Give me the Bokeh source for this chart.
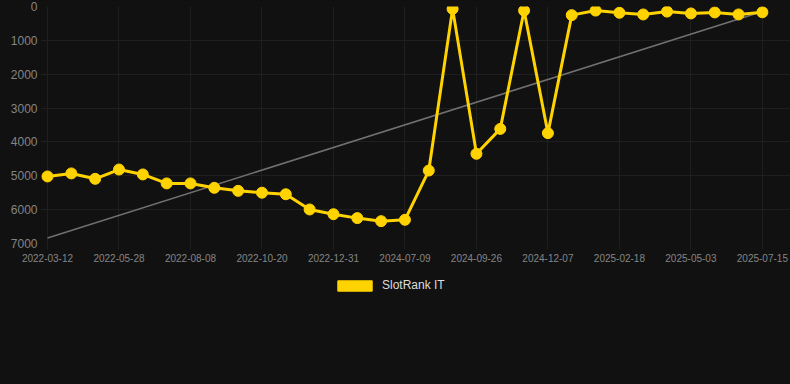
from bokeh.plotting import figure
from bokeh.layouts import column
from bokeh.models import Range1d, FixedTicker, Legend, LegendItem, ColumnDataSource
from bokeh.embed import file_html
from bokeh.resources import INLINE

# data
x_index = list(range(31))
rank = [5020, 4930, 5090, 4815, 4960, 5225, 5225, 5355, 5445, 5500, 5545,
        5995, 6135, 6250, 6340, 6300, 4845, 70, 4350, 3615, 120, 3740,
        255, 120, 185, 235, 150, 205, 175, 235, 170]
tick_pos = [0, 3, 6, 9, 12, 15, 18, 21, 24, 27, 30]
tick_labels = ["2022-03-12", "2022-05-28", "2022-08-08", "2022-10-20", "2022-12-31",
               "2024-07-09", "2024-09-26", "2024-12-07", "2025-02-18", "2025-05-03",
               "2025-07-15"]
trend_x = [0, 30]
trend_y = [6840, 150]
series_name = "SlotRank IT"

BG = "#111111"
GRID = "#1f1f1f"
YEL = "#FFD300"

p = figure(width=790, height=270, output_backend="svg", toolbar_location=None,
           x_range=Range1d(-0.294, 31.18), y_range=Range1d(7000, 0),
           background_fill_color=BG, border_fill_color=BG,
           min_border_left=40, min_border_right=0, min_border_top=6, min_border_bottom=27)
p.outline_line_color = None

p.line(trend_x, trend_y, line_color="#707070", line_width=1.6)
src = ColumnDataSource(dict(x=x_index, y=rank))
p.line("x", "y", source=src, line_color=YEL, line_width=3)
p.scatter("x", "y", source=src, size=11, fill_color=YEL, line_color=YEL)

p.xaxis.ticker = FixedTicker(ticks=tick_pos)
p.xaxis.major_label_overrides = {t: l for t, l in zip(tick_pos, tick_labels)}
p.yaxis.ticker = FixedTicker(ticks=[0, 1000, 2000, 3000, 4000, 5000, 6000, 7000])

for ax in (p.xaxis[0], p.yaxis[0]):
    ax.axis_line_color = None
    ax.minor_tick_line_color = None
    ax.major_label_text_color = "#858585"
    ax.major_label_text_font = "Liberation Sans"
    ax.major_tick_line_color = GRID
    ax.major_tick_in = 0

p.xaxis.major_tick_out = 6
p.xaxis.major_label_standoff = 4
p.xaxis.major_label_text_font_size = "10px"
p.yaxis.major_tick_out = 0
p.yaxis.major_label_standoff = 3
p.yaxis.major_label_text_font_size = "12px"

p.xgrid.grid_line_color = GRID
p.ygrid.grid_line_color = GRID

# legend strip
p2 = figure(width=790, height=114, output_backend="svg", toolbar_location=None,
            x_range=Range1d(0, 1), y_range=Range1d(0, 1),
            x_axis_type=None, y_axis_type=None,
            background_fill_color=BG, border_fill_color=BG,
            min_border_left=40, min_border_right=0, min_border_top=0, min_border_bottom=0)
p2.outline_line_color = None
p2.grid.visible = False
dummy = p2.quad(left=[5], right=[6], top=[5], bottom=[6], fill_color=YEL, line_color=YEL)

legend = Legend(items=[LegendItem(label=series_name, renderers=[dummy])],
                location=(293, 92), orientation="horizontal",
                glyph_width=43, glyph_height=13, padding=0, margin=0, spacing=0,
                label_standoff=6, label_text_font="Liberation Sans",
                label_text_font_size="12px", label_text_color="#dddddd",
                background_fill_alpha=0, border_line_color=None)
p2.add_layout(legend, "center")

layout = column(p, p2, spacing=0, styles={"background-color": BG})
open("out.html", "w").write(file_html(layout, INLINE))
